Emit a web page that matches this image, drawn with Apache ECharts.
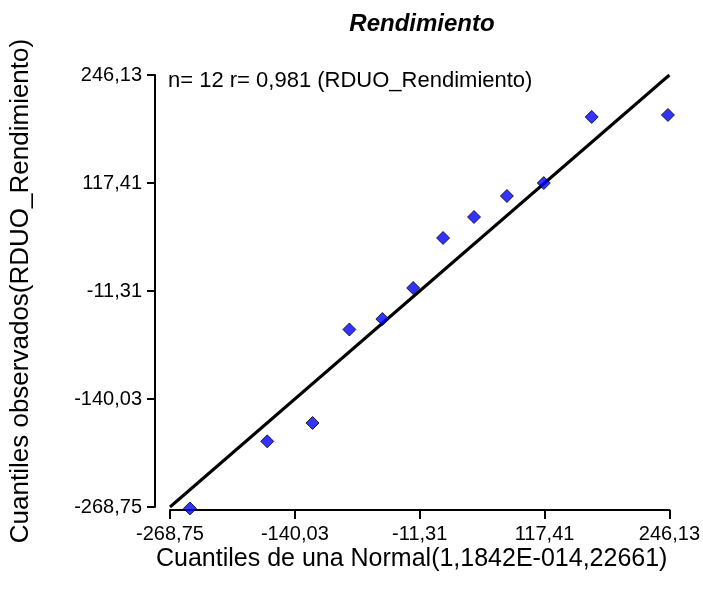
<!DOCTYPE html>
<html>
<head>
<meta charset="utf-8">
<script src="https://cdn.jsdelivr.net/npm/echarts@6/dist/echarts.min.js"></script>
<style>
  html, body { margin: 0; padding: 0; background: #fff; }
  #chart { width: 703px; height: 589px; }
</style>
</head>
<body>
<div id="chart"></div>
<script>
// tick positions shared by both axes
var ticks = [-268.75, -140.03, -11.31, 117.41, 246.13];

var normalQuantiles = [-248.2, -168.5, -121.8, -83.8, -49.8, -18.0, 12.8, 44.7, 78.6, 116.6, 166.0, 244.6];
var observedQuantiles = [-270.5, -190.5, -168.6, -57.2, -44.7, -7.7, 51.9, 76.9, 101.9, 117.4, 196.1, 198.5];

// reference line endpoints (y = x across the axis range)
var refLine = [-268.75, 246.13];

var fontFamily = "'Liberation Sans', Arial, sans-serif";

function fmt(v) {
  return v.toFixed(2).replace(".", ",");
}

var myChart = echarts.init(document.getElementById("chart"));

var points = normalQuantiles.map(function (x, i) {
  return [x, observedQuantiles[i]];
});

var option = {
  animation: false,
  backgroundColor: "#fff",
  title: {
    text: "Rendimiento",
    left: 417,
    top: 7,
    textAlign: "center",
    textStyle: {
      fontFamily: fontFamily,
      fontSize: 24,
      fontWeight: "bold",
      fontStyle: "italic",
      color: "#000",
    },
  },
  graphic: [
    {
      type: "text",
      left: 168,
      top: 70,
      style: {
        text: "n= 12 r= 0,981 (RDUO_Rendimiento)",
        font: "22px " + fontFamily,
        fill: "#000",
      },
    },
  ],
  grid: {
    left: 169,
    right: 33,
    top: 75,
    bottom: 82,
    containLabel: false,
  },
  xAxis: {
    type: "value",
    min: ticks[0],
    max: ticks[ticks.length - 1],
    offset: 3,
    name: "Cuantiles de una Normal(1,1842E-014,22661)",
    nameLocation: "middle",
    nameGap: 37,
    nameMoveOverlap: false,
    nameTextStyle: {
      fontFamily: fontFamily,
      fontSize: 25,
      color: "#000",
      padding: [0, 16, 0, 0],
    },
    axisLine: { show: true, onZero: false, lineStyle: { color: "#000", width: 2 } },
    axisTick: {
      show: true,
      length: 9,
      customValues: ticks,
      lineStyle: { color: "#000", width: 2 },
    },
    axisLabel: {
      customValues: ticks,
      margin: 14,
      fontFamily: fontFamily,
      fontSize: 20,
      color: "#000",
      formatter: fmt,
      showMinLabel: true,
      showMaxLabel: true,
    },
    splitLine: { show: false },
  },
  yAxis: {
    type: "value",
    min: ticks[0],
    max: ticks[ticks.length - 1],
    offset: 15,
    name: "Cuantiles observados(RDUO_Rendimiento)",
    nameLocation: "middle",
    nameGap: 121,
    nameMoveOverlap: false,
    nameTextStyle: {
      fontFamily: fontFamily,
      fontSize: 26,
      color: "#000",
    },
    axisLine: { show: true, onZero: false, lineStyle: { color: "#000", width: 2 } },
    axisTick: {
      show: true,
      length: 8,
      customValues: ticks,
      lineStyle: { color: "#000", width: 2 },
    },
    axisLabel: {
      customValues: ticks,
      margin: 13,
      fontFamily: fontFamily,
      fontSize: 20,
      color: "#000",
      formatter: fmt,
      showMinLabel: true,
      showMaxLabel: true,
    },
    splitLine: { show: false },
  },
  series: [
    {
      type: "line",
      data: [
        [refLine[0], refLine[0]],
        [refLine[1], refLine[1]],
      ],
      showSymbol: false,
      symbol: "none",
      lineStyle: { color: "#000", width: 3 },
      silent: true,
      z: 2,
    },
    {
      type: "scatter",
      data: points,
      symbol: "diamond",
      symbolSize: 13,
      clip: false,
      itemStyle: {
        color: "#0000FF",
        borderColor: "#000",
        borderWidth: 1,
      },
      z: 3,
    },
  ],
};

option && myChart.setOption(option);
</script>
</body>
</html>
